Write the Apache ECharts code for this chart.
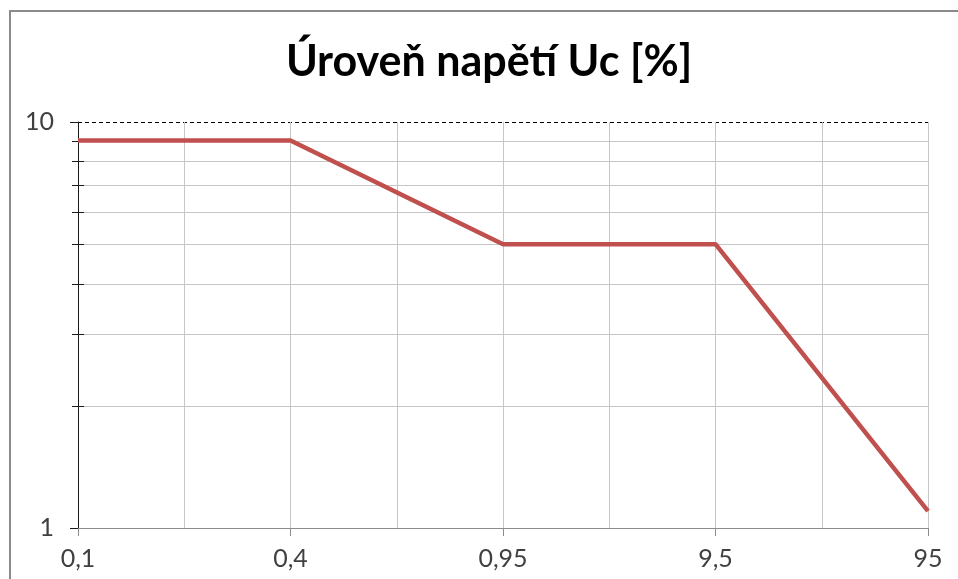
<!DOCTYPE html>
<html>
<head>
<meta charset="utf-8">
<script src="https://cdn.jsdelivr.net/npm/echarts@6/dist/echarts.min.js"></script>
<style>
html,body{margin:0;padding:0;background:#fff;}
#c{width:958px;height:579px;}
</style>
</head>
<body>
<div id="c"></div>
<script>
const title = 'Úroveň napětí Uc [%]';
const categories = ['0,1', '0,4', '0,95', '9,5', '95'];
const values = [9, 9, 5, 5, 1.1];
const yMinorGrid = [2, 3, 4, 5, 6, 7, 8, 9];
const yTickLabels = [1, 10];

const chart = echarts.init(document.getElementById('c'), null, {renderer: 'canvas'});
const labelFont = {fontFamily: 'Lato', fontSize: 25, color: '#404040'};
const gridColor = '#c6c6c6';

chart.setOption({
  animation: false,
  backgroundColor: '#fff',
  graphic: [{
    type: 'rect', z: -10,
    shape: {x: 10, y: 11, width: 1000, height: 1000},
    style: {fill: '#fff', stroke: '#8a8a8a', lineWidth: 2}
  }],
  title: {
    text: title, left: 484, top: 36, textAlign: 'center',
    textStyle: {fontFamily: 'Lato', fontWeight: 'bold', fontSize: 43, color: '#000'}
  },
  grid: {left: 78, top: 122, right: 30, bottom: 51, containLabel: false},
  xAxis: {
    type: 'value', min: 0, max: categories.length - 1, interval: 1,
    axisLine: {show: true, onZero: false, lineStyle: {color: '#8c8c8c', width: 1}},
    axisTick: {show: true, length: 8, lineStyle: {color: '#8c8c8c'}},
    axisLabel: Object.assign({margin: 18, formatter: v => categories[v] || ''}, labelFont),
    splitLine: {show: true, lineStyle: {color: gridColor, width: 1}},
    minorTick: {show: false, splitNumber: 2},
    minorSplitLine: {show: true, lineStyle: {color: gridColor, width: 1}}
  },
  yAxis: {
    type: 'log', logBase: 10, min: 1, max: 10,
    axisLine: {show: true, lineStyle: {color: '#1a1a1a', width: 1}},
    axisTick: {show: true, length: 8, lineStyle: {color: '#1a1a1a'}},
    axisLabel: Object.assign({margin: 24, formatter: v => yTickLabels.indexOf(v) >= 0 ? String(v) : ''}, labelFont),
    splitLine: {show: true, lineStyle: {color: '#000', type: [4, 3], width: 1}}
  },
  series: [
    {
      type: 'custom',
      silent: true,
      clip: false,
      z: 1,
      data: yMinorGrid.map(v => [v]),
      renderItem: function (params, api) {
        const v = api.value(0);
        const p0 = api.coord([0, v]);
        const p1 = api.coord([categories.length - 1, v]);
        const y = Math.round(p0[1]) + 0.5;
        return {
          type: 'group',
          children: [
            {type: 'line', shape: {x1: p0[0], y1: y, x2: p1[0], y2: y},
             style: {stroke: gridColor, lineWidth: 1}},
            {type: 'line', shape: {x1: p0[0] - 6, y1: y, x2: p0[0] + 6, y2: y},
             style: {stroke: '#1a1a1a', lineWidth: 1}, z2: 10}
          ]
        };
      }
    },
    {
      type: 'line',
      z: 5,
      data: values.map((v, i) => [i, v]),
      symbol: 'none',
      lineStyle: {color: '#c0504d', width: 4.5},
      itemStyle: {color: '#c0504d'}
    }
  ]
});
</script>
</body>
</html>
